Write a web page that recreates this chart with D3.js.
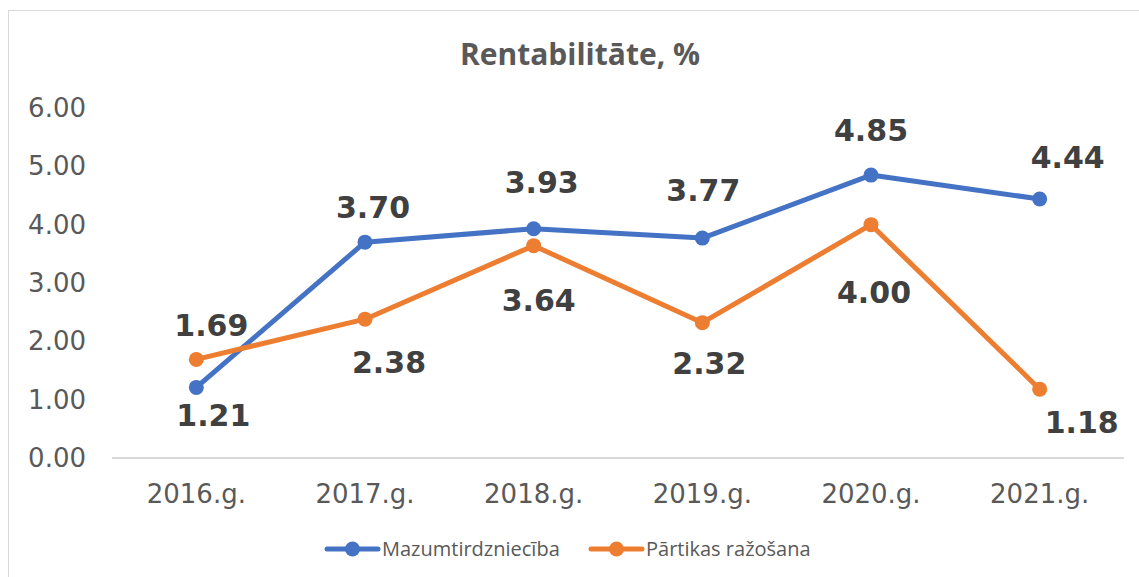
<!DOCTYPE html>
<html>
<head>
<meta charset="utf-8">
<script src="https://cdn.jsdelivr.net/npm/d3@7"></script>
<style>
  body { margin: 0; background: #fff; }
  svg { display: block; }
</style>
</head>
<body>
<svg id="chart" width="1139" height="577"></svg>
<script>
const years = ["2016.g.", "2017.g.", "2018.g.", "2019.g.", "2020.g.", "2021.g."];
const retail = [1.21, 3.70, 3.93, 3.77, 4.85, 4.44];
const food = [1.69, 2.38, 3.64, 2.32, 4.00, 1.18];
const yTicks = [0, 1, 2, 3, 4, 5, 6];
const seriesNames = ["Mazumtirdzniecība", "Pārtikas ražošana"];

// label nudges (dx, dy from the point), as placed in the original
const retailLabelPos = [[17, 28], [8, -35], [8, -47], [1, -48], [0, -45], [28, -42]];
const foodLabelPos = [[15, -34], [24, 43], [5, 54], [7, 40], [3, 67], [42, 33]];

const svg = d3.select("#chart");
const W = 1139, H = 577;

// chart border
svg.append("rect")
  .attr("x", 8.5).attr("y", 10.5)
  .attr("width", W).attr("height", H)
  .attr("fill", "none").attr("stroke", "#d9d9d9").attr("stroke-width", 1);

const x = d3.scaleBand().domain(years).range([112, 1124]);
const y = d3.scaleLinear().domain([0, 6]).range([458, 108]);
const cx = d => x(d) + x.bandwidth() / 2;

svg.append("text")
  .attr("x", 580).attr("y", 65)
  .attr("text-anchor", "middle")
  .attr("font-family", "'Open Sans', sans-serif")
  .attr("font-weight", "bold")
  .attr("font-size", 30)
  .attr("fill", "#595959")
  .text("Rentabilitāte, %");

// y axis labels
svg.append("g").selectAll("text")
  .data(yTicks).enter().append("text")
  .attr("x", 86).attr("y", d => y(d) + 9)
  .attr("text-anchor", "end")
  .attr("font-family", "'DejaVu Sans', sans-serif")
  .attr("font-size", 26)
  .attr("fill", "#595959")
  .text(d => d3.format(".2f")(d));

// baseline
svg.append("line")
  .attr("x1", 112).attr("x2", 1124)
  .attr("y1", y(0)).attr("y2", y(0))
  .attr("stroke", "#d9d9d9").attr("stroke-width", 2);

// x labels
svg.append("g").selectAll("text")
  .data(years).enter().append("text")
  .attr("x", d => cx(d)).attr("y", 503)
  .attr("text-anchor", "middle")
  .attr("font-family", "'DejaVu Sans', sans-serif")
  .attr("font-size", 26)
  .attr("fill", "#595959")
  .text(d => d);

const series = [
  { name: seriesNames[0], values: retail, color: "#4472c4", pos: retailLabelPos },
  { name: seriesNames[1], values: food, color: "#ed7d31", pos: foodLabelPos }
];

const line = d3.line().x((d, i) => cx(years[i])).y(d => y(d));

series.forEach(s => {
  const g = svg.append("g");
  g.append("path")
    .attr("d", line(s.values))
    .attr("fill", "none")
    .attr("stroke", s.color)
    .attr("stroke-width", 5)
    .attr("stroke-linejoin", "round")
    .attr("stroke-linecap", "round");
  g.selectAll("circle")
    .data(s.values).enter().append("circle")
    .attr("cx", (d, i) => cx(years[i]))
    .attr("cy", d => y(d))
    .attr("r", 7.5)
    .attr("fill", s.color);
});

series.forEach(s => {
  svg.append("g").selectAll("text")
    .data(s.values).enter().append("text")
    .attr("x", (d, i) => cx(years[i]) + s.pos[i][0])
    .attr("y", (d, i) => y(d) + s.pos[i][1] + 11)
    .attr("text-anchor", "middle")
    .attr("font-family", "'DejaVu Sans', sans-serif")
    .attr("font-weight", "bold")
    .attr("font-size", 30)
    .attr("fill", "#404040")
    .text(d => d3.format(".2f")(d));
});

// legend
const legendX = [327, 591];
series.forEach((s, i) => {
  const g = svg.append("g").attr("transform", `translate(${legendX[i]},549)`);
  g.append("line")
    .attr("x1", 0).attr("x2", 51)
    .attr("stroke", s.color).attr("stroke-width", 5)
    .attr("stroke-linecap", "round");
  g.append("circle").attr("cx", 25.5).attr("r", 7.5).attr("fill", s.color);
  g.append("text")
    .attr("x", 55).attr("y", 7)
    .attr("font-family", "'Open Sans', sans-serif")
    .attr("font-size", 20)
    .attr("fill", "#595959")
    .text(s.name);
});
</script>
</body>
</html>
